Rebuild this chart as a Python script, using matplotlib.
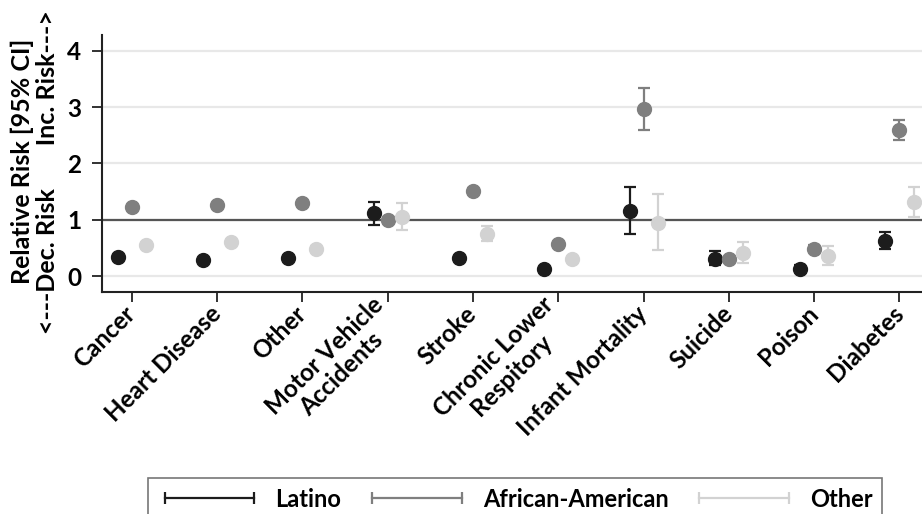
import matplotlib
matplotlib.use("Agg")
import matplotlib.pyplot as plt
from matplotlib.lines import Line2D
import numpy as np

plt.rcParams['font.family'] = ['Lato', 'DejaVu Sans']
FW = 'bold'

categories = ["Cancer", "Heart Disease", "Other", "Motor Vehicle\nAccidents", "Stroke",
              "Chronic Lower\nRespitory", "Infant Mortality", "Suicide", "Poison", "Diabetes"]

latino_rr = [0.34, 0.29, 0.33, 1.12, 0.32, 0.135, 1.16, 0.31, 0.135, 0.63]
latino_lo = [0.31, 0.27, 0.30, 0.91, 0.29, 0.11, 0.745, 0.20, 0.08, 0.48]
latino_hi = [0.37, 0.31, 0.36, 1.32, 0.35, 0.16, 1.59, 0.44, 0.20, 0.78]

aa_rr = [1.23, 1.26, 1.30, 1.00, 1.51, 0.57, 2.96, 0.31, 0.49, 2.59]
aa_lo = [1.20, 1.23, 1.27, 0.95, 1.46, 0.54, 2.59, 0.28, 0.44, 2.42]
aa_hi = [1.26, 1.29, 1.33, 1.05, 1.56, 0.60, 3.34, 0.34, 0.55, 2.77]

oth_rr = [0.555, 0.61, 0.49, 1.05, 0.745, 0.31, 0.95, 0.41, 0.36, 1.31]
oth_lo = [0.52, 0.57, 0.45, 0.82, 0.63, 0.28, 0.47, 0.24, 0.19, 1.05]
oth_hi = [0.59, 0.65, 0.53, 1.30, 0.89, 0.34, 1.45, 0.60, 0.54, 1.58]

series = [
    ("Latino", latino_rr, latino_lo, latino_hi, "#1c1c1c", -0.165),
    ("African-American", aa_rr, aa_lo, aa_hi, "#7f7f7f", 0.0),
    ("Other", oth_rr, oth_lo, oth_hi, "#d2d2d2", 0.165),
]

fig = plt.figure(figsize=(9.22, 5.14), dpi=100)
ax = fig.add_axes([0.1106, 0.432, 0.889, 0.5])

x = np.arange(1, len(categories) + 1)
for yv in [0, 1, 2, 3, 4]:
    ax.axhline(yv, color="#e8e8e8", lw=1.6, zorder=0)
ax.axhline(1, color="#555555", lw=1.6, zorder=1)

handles = []
for name, rr, lo, hi, col, off in series:
    rr = np.array(rr); lo = np.array(lo); hi = np.array(hi)
    ax.errorbar(x + off, rr, yerr=[rr - lo, hi - rr], fmt='o', color=col, ecolor=col,
                markersize=10, elinewidth=1.6, capsize=4.5, capthick=1.6, zorder=3)
    handles.append(Line2D([], [], color=col, lw=1.6, marker='|', markersize=9,
                          markeredgewidth=1.6, label=name))

ax.set_xlim(0.65, 10.26)
ax.set_ylim(-0.28, 4.28)
ax.set_yticks([0, 1, 2, 3, 4])
ax.set_xticks(x)
ax.set_xticklabels(categories, rotation=45, ha='right', va='center',
                   rotation_mode='anchor', multialignment='center',
                   fontsize=17.5, fontweight=FW, linespacing=1.1)
for lab in ax.get_yticklabels():
    lab.set_fontsize(17.5)
    lab.set_fontweight(FW)
ax.tick_params(axis='x', length=7, width=1.3, color="#222222", pad=6)
ax.tick_params(axis='y', length=7, width=1.3, color="#222222", pad=8)
for s in ['top', 'right']:
    ax.spines[s].set_visible(False)
for s in ['left', 'bottom']:
    ax.spines[s].set_linewidth(1.5)
    ax.spines[s].set_color("#222222")

fig.text(0.024, 0.687, "Relative Risk [95% CI]", rotation=90, ha='center', va='center',
         fontsize=18, fontweight=FW)
fig.text(0.052, 0.665, "<---Dec. Risk       Inc. Risk--->", rotation=90, ha='center', va='center',
         fontsize=18, fontweight=FW)

leg = fig.legend(handles=handles, loc='center', ncol=3, numpoints=2,
                 bbox_to_anchor=(148/922, -0.03, (882-148)/922, (514-469)/514 + 0.03),
                 mode='expand', frameon=True, fancybox=False, edgecolor="#555555",
                 fontsize=17, handlelength=4.4, handletextpad=0.6, borderaxespad=0)
leg.get_frame().set_linewidth(1.2)
for t in leg.get_texts():
    t.set_fontweight(FW)

fig.savefig("out.png", dpi=100)
